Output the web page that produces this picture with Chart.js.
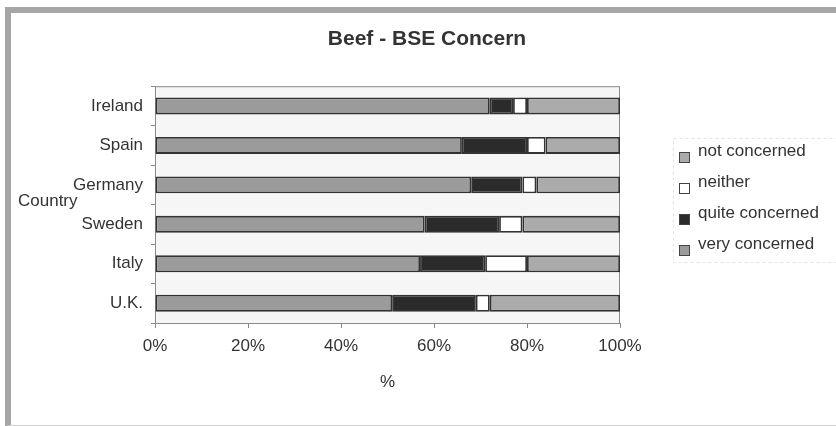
<!DOCTYPE html>
<html>
<head>
<meta charset="utf-8">
<script src="https://cdn.jsdelivr.net/npm/chart.js@4/dist/chart.umd.min.js"></script>
<style>
  html, body { margin: 0; padding: 0; background: #fff; }
  #wrap { position: relative; width: 836px; height: 426px; overflow: hidden; }
  #frame {
    position: absolute; left: 5px; top: 7px; width: 860px; height: 412px;
    border-left: 6px solid #a6a6a6; border-top: 6px solid #a6a6a6;
    border-bottom: 1px solid #d0d0d0;
  }
  canvas { position: absolute; left: 0; top: 0; }
</style>
</head>
<body>
<div id="wrap">
  <div id="frame"></div>
  <canvas id="bseChart" width="836" height="426"></canvas>
</div>
<script>
// --- Data (percent of respondents) ---
const countries = ['Ireland', 'Spain', 'Germany', 'Sweden', 'Italy', 'U.K.'];
const veryConcerned  = [72, 66, 68, 58, 57, 51];
const quiteConcerned = [5, 14, 11, 16, 14, 18];
const neither        = [3, 4, 3, 5, 9, 3];
const notConcerned   = [20, 16, 18, 21, 20, 28];
const xTicks = [0, 20, 40, 60, 80, 100];

const TEXT = '#333';
const FONT = 'Liberation Sans, Arial, sans-serif';

function makeSet(label, data, color) {
    return {
        label: label,
        data: data,
        backgroundColor: color,
        borderColor: '#333',
        borderWidth: 1.8,
        borderSkipped: false,
        barPercentage: 0.43,
        categoryPercentage: 1
    };
}

// plot area fill + frame, drawn under the bars
const plotBox = {
    id: 'plotBox',
    beforeDatasetsDraw(chart) {
        const { ctx, chartArea: a } = chart;
        ctx.save();
        ctx.fillStyle = '#f6f6f6';
        ctx.fillRect(a.left, a.top, a.right - a.left, a.bottom - a.top);
        ctx.strokeStyle = '#8a8a8a';
        ctx.lineWidth = 1;
        ctx.strokeRect(a.left + 0.5, a.top + 0.5, a.right - a.left - 1, a.bottom - a.top);
        ctx.restore();
    }
};

// horizontal "Country" label + Excel style legend on the right
const extras = {
    id: 'extras',
    afterDraw(chart) {
        const { ctx, chartArea: a } = chart;
        ctx.save();
        ctx.font = '17px ' + FONT;
        ctx.fillStyle = TEXT;
        ctx.textAlign = 'left';
        ctx.textBaseline = 'middle';
        ctx.fillText('Country', 18, 201);

        // legend, reversed like Excel does for stacked bars
        const sets = chart.data.datasets.slice().reverse();
        const x = a.right + 59;
        let y = 151;
        ctx.strokeStyle = '#e2e2e2';
        ctx.lineWidth = 1;
        ctx.setLineDash([3, 3]);
        ctx.strokeRect(a.right + 53.5, 138.5, 200, 124);
        ctx.setLineDash([]);
        sets.forEach(ds => {
            ctx.fillStyle = ds.backgroundColor;
            ctx.fillRect(x, y + 1, 11, 11);
            ctx.strokeStyle = '#444';
            ctx.strokeRect(x + 0.5, y + 1.5, 10, 10);
            ctx.fillStyle = TEXT;
            ctx.fillText(ds.label, x + 19, y);
            y += 31;
        });
        ctx.restore();
    }
};

new Chart(document.getElementById('bseChart'), {
    type: 'bar',
    data: {
        labels: countries,
        datasets: [
            makeSet('very concerned', veryConcerned, '#9b9b9b'),
            makeSet('quite concerned', quiteConcerned, '#2b2b2b'),
            makeSet('neither', neither, '#ffffff'),
            makeSet('not concerned', notConcerned, '#ababab')
        ]
    },
    plugins: [plotBox, extras],
    options: {
        indexAxis: 'y',
        responsive: false,
        animation: false,
        layout: { padding: { left: 18, right: 0, top: 0, bottom: 0 } },
        plugins: {
            legend: { display: false },
            tooltip: { enabled: false },
            title: {
                display: true,
                text: 'Beef - BSE Concern',
                color: TEXT,
                font: { family: FONT, size: 21, weight: 'bold' },
                padding: { top: 27, bottom: 34 }
            }
        },
        scales: {
            y: {
                stacked: true,
                afterFit(scale) { scale.width = 137; },
                grid: {
                    offset: true,
                    drawOnChartArea: false,
                    tickLength: 4,
                    color: '#8a8a8a'
                },
                border: { display: true, color: '#8a8a8a' },
                ticks: {
                    color: TEXT,
                    padding: 8,
                    font: { family: FONT, size: 17 }
                }
            },
            x: {
                stacked: true,
                min: 0,
                max: 100,
                // leave room on the right for the legend
                afterFit(scale) { scale.height = 103; scale.paddingRight = 216; },
                afterBuildTicks(scale) { scale.ticks = xTicks.map(v => ({ value: v })); },
                grid: {
                    drawOnChartArea: false,
                    tickLength: 5,
                    color: '#8a8a8a'
                },
                border: { display: true, color: '#8a8a8a' },
                ticks: {
                    color: TEXT,
                    padding: 8,
                    maxRotation: 0,
                    font: { family: FONT, size: 17 },
                    callback: v => v + '%'
                },
                title: {
                    display: true,
                    text: '%',
                    color: TEXT,
                    font: { family: FONT, size: 17 },
                    padding: { top: 4, bottom: 33 }
                }
            }
        }
    }
});
</script>
</body>
</html>
